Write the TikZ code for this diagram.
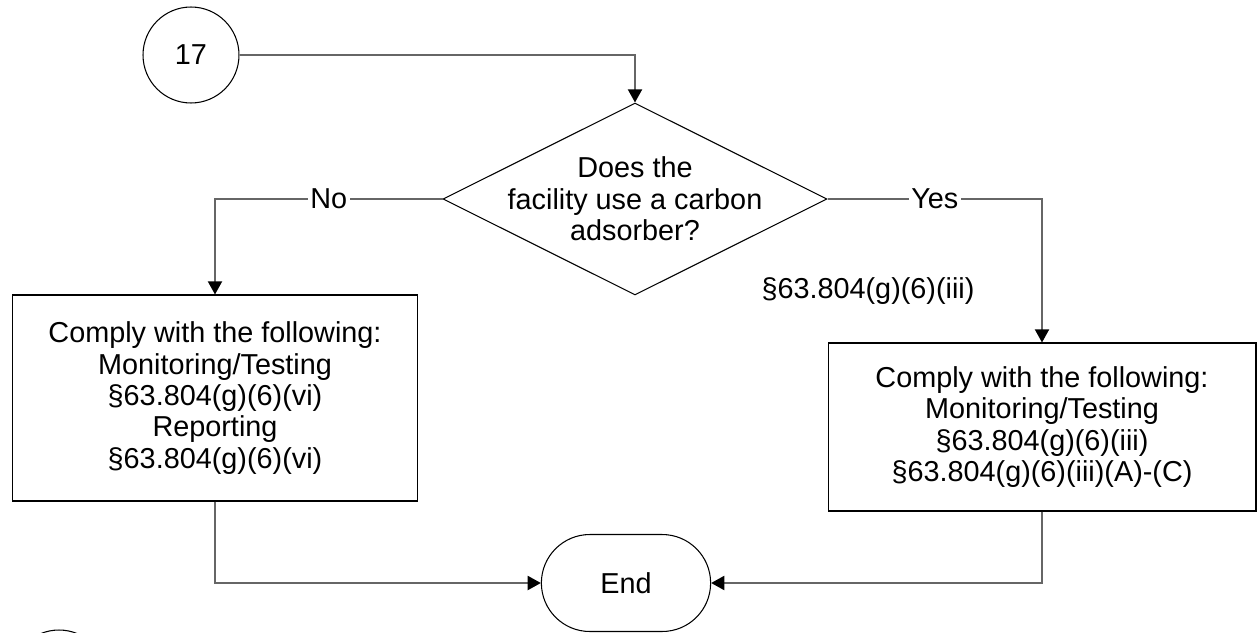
\documentclass[tikz,border=0pt]{standalone}
\usepackage{fontspec}
\setmainfont{Liberation Sans}
\usetikzlibrary{arrows.meta}
\usetikzlibrary{shapes.geometric}
\usetikzlibrary{shapes.misc}
\usetikzlibrary{positioning}
\tikzset{txt/.style = {font = \fontsize{16.4}{17.9}\selectfont, align = center}}
\tikzset{pageconn/.style = {draw, circle, line width = 0.6pt, minimum size = 1.92cm, txt}}
\tikzset{decision/.style = {draw, diamond, line width = 0.6pt, inner sep = 0, minimum width = 7.68cm, minimum height = 3.84cm}}
\tikzset{stepbox/.style = {draw, rectangle, line width = 0.6pt, txt}}
\tikzset{term/.style = {draw, rounded rectangle, line width = 0.6pt, minimum width = 3.62cm, minimum height = 1.94cm, txt}}
\tikzset{conn/.style = {draw = black!60, line width = 1.1pt, -{Triangle[length = 7.5pt, width = 8pt, color = black]}}}
\tikzset{lbl/.style = {fill = white, inner sep = 1.5pt, txt}}
\definecolor{mgray}{rgb}{0.4, 0.4, 0.4}

\begin{document}
\begin{tikzpicture}[x = 0.02cm, y = -0.02cm]
    \useasboundingbox (0, 0) rectangle (1257, 632);

    \node [pageconn] (c17) at (191, 55) {17};
    \node [decision, label = {[txt]center:Does the\\facility use a carbon\\adsorber?}] (q) at (635, 199) {};
    \node [stepbox, minimum width = 8.12cm, minimum height = 4.12cm] (nobox) at (215, 398)
      {Comply with the following:\\Monitoring/Testing\\§63.804(g)(6)(vi)\\Reporting\\§63.804(g)(6)(vi)};
    \node [stepbox, minimum width = 8.56cm, minimum height = 3.36cm] (yesbox) at (1042, 427)
      {Comply with the following:\\Monitoring/Testing\\§63.804(g)(6)(iii)\\§63.804(g)(6)(iii)(A)-(C)};
    \node [term] (end) at (626, 583) {End};
    \node [txt] (cite) at (868, 291) {§63.804(g)(6)(iii)};

    \begin{scope}
      \clip (0, 0) rectangle (1257, 632);
      \node [pageconn] (c18) at (59, 678) {};
    \end{scope}

    \draw [conn] (c17.east) -| (q.north);
    \draw [conn] (q.west) -| node [lbl, pos = 0.25] (no) {No} (nobox.north);
    \draw [conn] (q.east) -| node [lbl, pos = 0.25] (yes) {Yes} (yesbox.north);
    \draw [conn] (nobox.south) |- (end.west);
    \draw [conn] (yesbox.south) |- (end.east);
  \end{tikzpicture}
\end{document}
